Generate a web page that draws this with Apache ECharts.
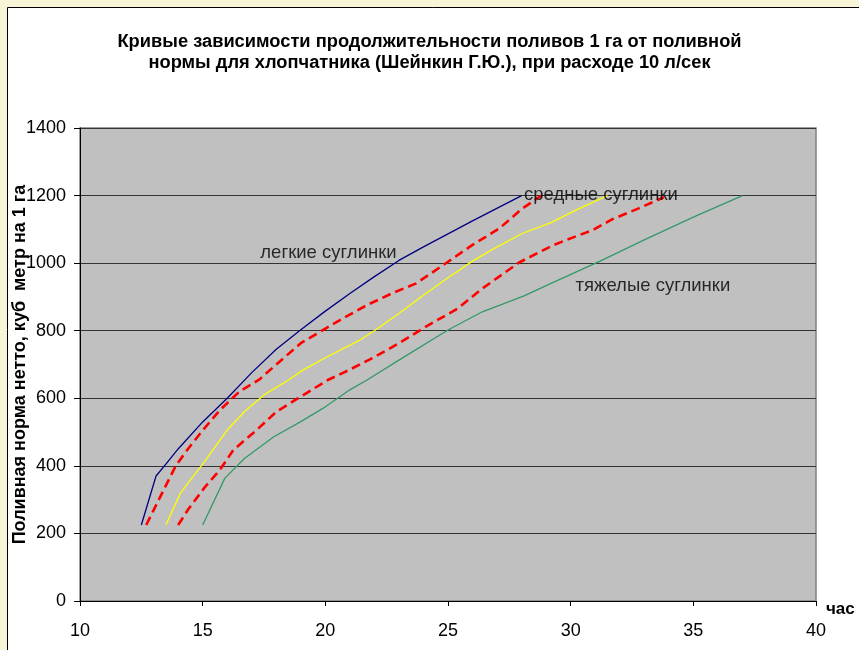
<!DOCTYPE html>
<html><head><meta charset="utf-8">
<script src="https://cdn.jsdelivr.net/npm/echarts@6/dist/echarts.min.js"></script>
<style>html,body{margin:0;padding:0;background:#F8F4D8;}#c{width:859px;height:650px;}</style>
</head><body><div id="c"></div>
<script>
// hours (x) and irrigation norm m3/ha (y)
var lightLoam = [[12.5,225],[13.1,370],[13.5,405],[14,450],[15,530],[16,600],[17,676],[18,745],[19,803],[20,858],[21,910],[22,960],[23,1008],[24,1048],[26,1125],[28,1200]];
var redUpper = [[12.7,225],[13.9,400],[14.4,450],[15,505],[15.7,565],[16.5,620],[17.3,655],[18,700],[19,763],[19.9,802],[20.8,840],[21.7,876],[22.7,910],[23.7,940],[25,1004],[26,1054],[27.1,1103],[28,1160],[28.8,1200]];
var mediumLoam = [[13.5,225],[14.1,320],[15,405],[16,506],[16.7,560],[17.5,610],[18.5,654],[19.1,684],[20,720],[21.4,772],[22,800],[23,851],[24,905],[25,957],[26,1006],[26.8,1040],[28,1087],[29.2,1120],[30.3,1160],[31.5,1200]];
var redLower = [[14,225],[14.4,270],[15.1,338],[15.7,388],[16.25,447],[17.2,506],[18,560],[19,605],[20.1,654],[21,685],[22,722],[23,763],[24.1,812],[25.4,866],[26.4,925],[27.9,1002],[29.2,1050],[29.8,1068],[30.9,1098],[31.7,1130],[32.7,1160],[33.8,1195]];
var heavyLoam = [[15,225],[15.9,363],[16.7,422],[17.9,486],[19,531],[19.9,570],[21,625],[21.7,654],[23,713],[25,802],[26.4,856],[28.1,903],[29.2,940],[31.2,1006],[33,1069],[35,1136],[37,1200]];
var xTicks = [10,15,20,25,30,35,40];
var yTicks = [0,200,400,600,800,1000,1200,1400];
var curveLabels = [
  {name:'легкие суглинки', value:[17.35,1030]},
  {name:'средные суглинки', value:[28.1,1201]},
  {name:'тяжелые суглинки', value:[30.2,932]}
];
var titleText = 'Кривые зависимости продолжительности поливов 1 га от поливной\nнормы для хлопчатника (Шейнкин Г.Ю.), при расходе 10 л/сек';
var yName = 'Поливная норма нетто, куб  метр на 1 га';
var xName = 'час';

var chart = echarts.init(document.getElementById('c'), null, {renderer:'canvas'});
var FONT = '"Liberation Sans", Arial, sans-serif';
function line(data, color, width, dash){
  return {type:'line', data:data, showSymbol:false, symbol:'none', smooth:false, silent:true,
    lineStyle:{color:color, width:width, type:dash||'solid'}, z:3, animation:false};
}
chart.setOption({
  animation:false,
  backgroundColor:'transparent',
  graphic:[{type:'rect', shape:{x:7.5,y:7.5,width:900,height:700}, style:{fill:'#fff', stroke:'#000', lineWidth:1}, z:-10, silent:true}],
  title:{text:titleText, left:'center', top:26, textStyle:{fontFamily:FONT, fontSize:18.3, fontWeight:'bold', color:'#000', lineHeight:21}},
  grid:{left:80, right:43, top:128, bottom:49, show:true, containLabel:false, outerBoundsMode:'none',
    backgroundColor:'#C0C0C0', borderColor:'#808080', borderWidth:1.5},
  xAxis:{type:'value', min:10, max:40, interval:5,
    name:xName, nameLocation:'end', nameGap:10, nameMoveOverlap:false,
    nameTextStyle:{fontFamily:FONT, fontSize:17, fontWeight:'bold', color:'#000', verticalAlign:'top', padding:[0,0,0,0]},
    axisLine:{show:true, onZero:false, lineStyle:{color:'#000', width:1}},
    axisTick:{show:true, length:5, inside:false, lineStyle:{color:'#000'}},
    axisLabel:{fontFamily:FONT, fontSize:18, color:'#000', margin:21, formatter:function(v){return String(v);}},
    splitLine:{show:false}},
  yAxis:{type:'value', min:0, max:1400, interval:200,
    name:yName, nameLocation:'middle', nameGap:51, nameRotate:90, nameMoveOverlap:false,
    nameTextStyle:{fontFamily:FONT, fontSize:18, fontWeight:'bold', color:'#000'},
    axisLine:{show:true, lineStyle:{color:'#000', width:1}},
    axisTick:{show:true, length:6, lineStyle:{color:'#000'}},
    axisLabel:{fontFamily:FONT, fontSize:18, color:'#000', margin:14, formatter:function(v){return String(v);}},
    splitLine:{show:true, lineStyle:{color:'#333', width:1}}},
  series:[
    line(lightLoam,'#000080',1.3),
    line(redUpper,'#FF0000',2.6,[9,5]),
    line(mediumLoam,'#FFFF00',1.3),
    line(redLower,'#FF0000',2.6,[9,5]),
    line(heavyLoam,'#339966',1.3),
    {type:'scatter', data:curveLabels, symbolSize:0, silent:true, z:5,
      label:{show:true, position:'right', distance:0, formatter:'{b}', fontFamily:FONT, fontSize:18.5, color:'#000'}}
  ]
});
</script></body></html>
